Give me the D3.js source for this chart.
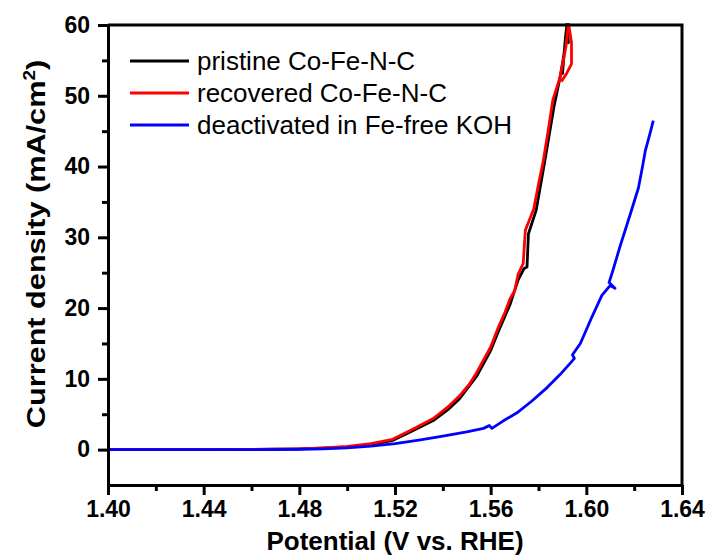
<!DOCTYPE html>
<html>
<head>
<meta charset="utf-8">
<script src="https://cdn.jsdelivr.net/npm/d3@7"></script>
<style>
  body { margin: 0; background: #fff; }
  svg { display: block; font-family: "Liberation Sans", Arial, sans-serif; }
</style>
</head>
<body>
<div id="chart"></div>
<script>
// Series data (potential in V vs. RHE, current density in mA/cm2)
const pristineV = [1.400, 1.420, 1.440, 1.460, 1.470, 1.480, 1.490, 1.500, 1.510, 1.519, 1.527, 1.536, 1.542, 1.547,
  1.554, 1.560, 1.5631, 1.5682, 1.5715, 1.5740, 1.5752, 1.5758, 1.5790, 1.5825, 1.5865, 1.5890, 1.5905, 1.5915,
  1.5925, 1.5920, 1.5912, 1.5900];
const pristineJ = [0, 0, 0, 0.02, 0.05, 0.1, 0.2, 0.35, 0.7, 1.3, 2.6, 4.1, 5.6, 7.2,
  10.3, 14.0, 16.6, 20.6, 24.0, 25.6, 25.8, 30.5, 33.8, 40.5, 48.5, 52.6, 55.5, 58.5,
  57.5, 60.4, 58.0, 53.0];

const recoveredV = [1.400, 1.420, 1.440, 1.460, 1.470, 1.480, 1.490, 1.500, 1.510, 1.519, 1.527, 1.536, 1.542, 1.547,
  1.551, 1.554, 1.560, 1.5631, 1.5660, 1.5682, 1.5700, 1.5715, 1.5736, 1.5745, 1.5780, 1.5800, 1.5820, 1.5840,
  1.5860, 1.5890, 1.5915, 1.5925, 1.5938, 1.5938, 1.5915, 1.5895];
const recoveredJ = [0, 0, 0, 0.02, 0.05, 0.1, 0.25, 0.45, 0.85, 1.45, 2.8, 4.4, 6.0, 7.6,
  9.2, 10.8, 14.5, 17.2, 19.4, 21.4, 22.4, 24.8, 26.3, 31.0, 34.0, 37.5, 40.8, 45.0,
  49.4, 52.6, 57.0, 60.3, 57.5, 54.5, 53.0, 52.0];

const deactivatedV = [1.400, 1.440, 1.460, 1.480, 1.490, 1.500, 1.510, 1.520, 1.530, 1.540, 1.550, 1.557, 1.5595,
  1.5605, 1.565, 1.571, 1.577, 1.5837, 1.589, 1.5935, 1.5950, 1.5942, 1.5975, 1.602, 1.6065, 1.6100, 1.6120,
  1.6095, 1.6110, 1.6140, 1.6185, 1.6218, 1.6235, 1.6247, 1.6265, 1.6280];
const deactivatedJ = [0, 0, 0, 0.02, 0.1, 0.25, 0.5, 0.85, 1.35, 1.9, 2.5, 3.0, 3.4,
  3.0, 4.0, 5.2, 6.8, 8.8, 10.6, 12.3, 12.9, 13.4, 15.0, 18.5, 21.8, 23.2, 22.8,
  23.6, 25.2, 28.6, 33.4, 37.0, 40.0, 42.3, 44.5, 46.5];

const seriesNames = ["pristine Co-Fe-N-C", "recovered Co-Fe-N-C", "deactivated in Fe-free KOH"];
const seriesColors = ["#000000", "#ff0000", "#0000ff"];

const xTicks = [1.40, 1.44, 1.48, 1.52, 1.56, 1.60, 1.64];
const xMinorTicks = [1.42, 1.46, 1.50, 1.54, 1.58, 1.62];
const yTicks = [0, 10, 20, 30, 40, 50, 60];
const yMinorTicks = [5, 15, 25, 35, 45, 55];

const width = 709, height = 557;
const margin = { top: 25, right: 27, bottom: 72, left: 108 };

const svg = d3.select("#chart").append("svg")
  .attr("width", width)
  .attr("height", height);

const x = d3.scaleLinear()
  .domain([1.40, 1.64])
  .range([margin.left, width - margin.right]);

const y = d3.scaleLinear()
  .domain([-5, 60])
  .range([height - margin.bottom, margin.top]);

// curves
const series = [
  { v: pristineV, j: pristineJ },
  { v: recoveredV, j: recoveredJ },
  { v: deactivatedV, j: deactivatedJ }
];

const line = d3.line()
  .x(d => x(d[0]))
  .y(d => y(d[1]));

const plot = svg.append("g");
plot.append("clipPath").attr("id", "clip")
  .append("rect")
  .attr("x", margin.left).attr("y", margin.top - 2)
  .attr("width", width - margin.left - margin.right)
  .attr("height", height - margin.top - margin.bottom + 2);

plot.selectAll(".curve")
  .data(series)
  .enter()
  .append("path")
  .attr("class", "curve")
  .attr("clip-path", "url(#clip)")
  .attr("d", d => line(d.v.map((v, i) => [v, d.j[i]])))
  .attr("fill", "none")
  .attr("stroke", (_, i) => seriesColors[i])
  .attr("stroke-width", 2.8)
  .attr("stroke-linejoin", "round");

// axes
svg.append("g")
  .attr("transform", `translate(0, ${y(-5)})`)
  .call(d3.axisBottom(x).tickValues(xTicks).tickSize(10).tickSizeOuter(0).tickPadding(6).tickFormat(d3.format(".2f")));

svg.append("g")
  .attr("transform", `translate(0, ${y(-5)})`)
  .call(d3.axisBottom(x).tickValues(xMinorTicks).tickSize(6).tickSizeOuter(0).tickFormat(""));

svg.append("g")
  .attr("transform", `translate(${x(1.40)}, 0)`)
  .call(d3.axisLeft(y).tickValues(yTicks).tickSize(10).tickSizeOuter(0).tickPadding(8));

svg.append("g")
  .attr("transform", `translate(${x(1.40)}, 0)`)
  .call(d3.axisLeft(y).tickValues(yMinorTicks).tickSize(6).tickSizeOuter(0).tickFormat(""));

svg.selectAll(".domain, .tick line")
  .attr("stroke", "#000")
  .attr("stroke-width", 3);

svg.selectAll(".tick text")
  .attr("font-size", 23)
  .attr("font-weight", "bold")
  .attr("fill", "#000");

// top and right frame lines
svg.append("path")
  .attr("d", `M${x(1.40)},${y(60)}H${x(1.64)}V${y(-5)}`)
  .attr("fill", "none")
  .attr("stroke", "#000")
  .attr("stroke-width", 3);

// axis titles
svg.append("text")
  .attr("x", (x(1.40) + x(1.64)) / 2)
  .attr("y", 550)
  .attr("text-anchor", "middle")
  .attr("font-size", 26)
  .attr("font-weight", "bold")
  .text("Potential (V vs. RHE)");

// the y title is drawn stretched along its length, like in the figure
const yTitle = svg.append("text")
  .attr("transform", "translate(45, 244) rotate(-90) scale(1.18, 1)")
  .attr("text-anchor", "middle")
  .attr("font-size", 26)
  .attr("font-weight", "bold");
yTitle.append("tspan").text("Current density (mA/cm");
yTitle.append("tspan").attr("font-size", 16).attr("dy", -10).text("2");
yTitle.append("tspan").attr("dy", 10).text(")");

// legend
const legend = svg.append("g")
  .selectAll("g")
  .data(seriesNames)
  .enter()
  .append("g")
  .attr("transform", (_, i) => `translate(130, ${61 + i * 32})`);

legend.append("line")
  .attr("x1", 0).attr("x2", 59)
  .attr("stroke", (_, i) => seriesColors[i])
  .attr("stroke-width", 3);

legend.append("text")
  .attr("x", 67)
  .attr("dy", "0.36em")
  .attr("font-size", 26)
  .text(d => d);
</script>
</body>
</html>
